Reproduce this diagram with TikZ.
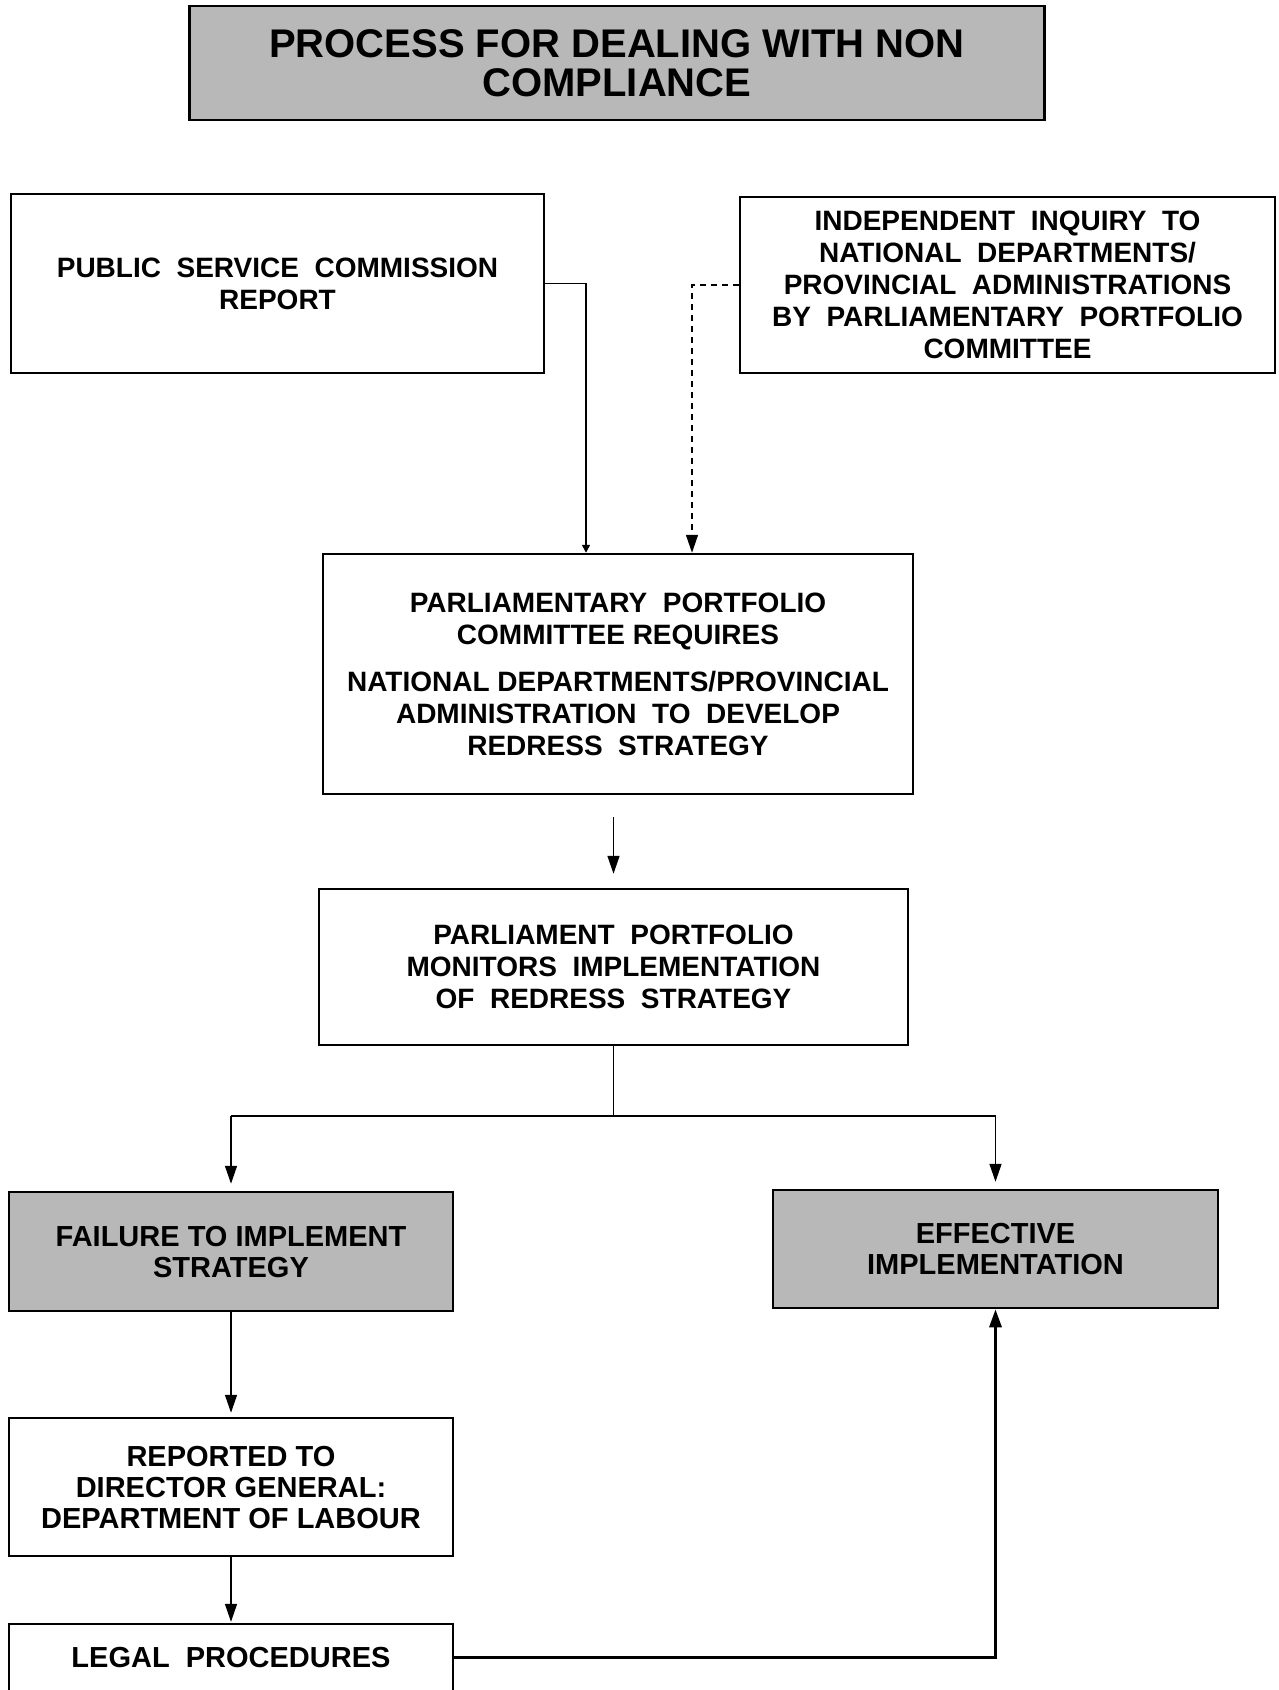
\documentclass[tikz,border=0pt]{standalone}
\usepackage{fontspec}
\setmainfont{Liberation Sans}
\usetikzlibrary{arrows.meta}
\definecolor{shadegray}{rgb}{0.72,0.72,0.72}
\newcommand\boxfont{\fontsize{28}{32}\selectfont\bfseries}
\newcommand\shadefont{\fontsize{29}{31}\selectfont\bfseries}
\newcommand\titlefont{\fontsize{40}{39}\selectfont\bfseries}
\tikzset{
  plainbox/.style={draw, line width=2.5pt, inner sep=0pt, align=center, font=\boxfont},
  shadebox/.style={plainbox, fill=shadegray, font=\shadefont},
  arr/.style={-{Triangle[length=18pt,width=12pt]}, line width=1.5pt},
  arrsmall/.style={-{Triangle[length=8pt,width=8pt]}, line width=1.5pt},
  link/.style={line width=1.5pt}
}
\begin{document}
\begin{tikzpicture}[x=1pt,y=-1pt]
\useasboundingbox (0,0) rectangle (1278,1690);
\clip (0,0) rectangle (1278,1690);
\fill[white] (0,0) rectangle (1278,1690);

\node[shadebox, font=\titlefont, minimum width=855pt, minimum height=114pt] (title) at (617,63)
  {PROCESS FOR DEALING WITH NON\\COMPLIANCE};

\node[plainbox, minimum width=533pt, minimum height=179pt] (psc) at (277.5,283.5)
  {PUBLIC~ SERVICE~ COMMISSION\\REPORT};

\node[plainbox, minimum width=535pt, minimum height=176pt] (ind) at (1007.5,285)
  {INDEPENDENT~ INQUIRY~ TO\\NATIONAL~ DEPARTMENTS/\\PROVINCIAL~ ADMINISTRATIONS\\BY~ PARLIAMENTARY~ PORTFOLIO\\COMMITTEE};

\node[plainbox, minimum width=590pt, minimum height=240pt] (ppc) at (618,674)
  {PARLIAMENTARY~ PORTFOLIO\\COMMITTEE REQUIRES\\[15pt]NATIONAL DEPARTMENTS/PROVINCIAL\\ADMINISTRATION~ TO~ DEVELOP\\REDRESS~ STRATEGY};

\node[plainbox, minimum width=589pt, minimum height=156pt] (ppm) at (613.5,967)
  {PARLIAMENT~ PORTFOLIO\\MONITORS~ IMPLEMENTATION\\OF~ REDRESS~ STRATEGY};

\node[shadebox, minimum width=444pt, minimum height=119pt] (fail) at (231,1251.5)
  {FAILURE TO IMPLEMENT\\STRATEGY};

\node[shadebox, minimum width=445pt, minimum height=118pt] (eff) at (995.5,1249)
  {EFFECTIVE\\IMPLEMENTATION};

\node[plainbox, font=\shadefont, minimum width=444pt, minimum height=138pt] (rep) at (231,1487)
  {REPORTED TO\\DIRECTOR GENERAL:\\DEPARTMENT OF LABOUR};

\node[inner sep=0pt, align=center, font=\shadefont, minimum width=444pt, minimum height=66pt] (legal) at (231,1657)
  {LEGAL~ PROCEDURES};
\draw[line width=2.5pt] ([yshift=-30pt]legal.south west) -- (legal.north west) -- (legal.north east) -- ([yshift=-30pt]legal.south east);

% connectors
\draw[arrsmall] (psc.east) -| ([xshift=-32pt]ppc.north);
\draw[arr, dash pattern=on 6pt off 5pt] (ind.west) -| ([xshift=74pt]ppc.north);
\draw[arr, shorten <=22pt, shorten >=14pt] (ppm.north |- ppc.south) -- (ppm.north);

\coordinate (jy) at (0,1116);
\draw[link] (ppm.south) -- (ppm.south |- jy);
\draw[link] (fail.north |- jy) -- (eff.north |- jy);
\draw[arr, shorten >=7pt] (fail.north |- jy) -- (fail.north);
\draw[arr, shorten >=7pt] (eff.north |- jy) -- (eff.north);
\draw[arr, shorten >=4pt] (fail.south) -- (rep.north);
\draw[arr, shorten >=2pt] (rep.south) -- (legal.north);
\draw[arr, line width=3pt] (legal.east) -| (eff.south);
\end{tikzpicture}
\end{document}
